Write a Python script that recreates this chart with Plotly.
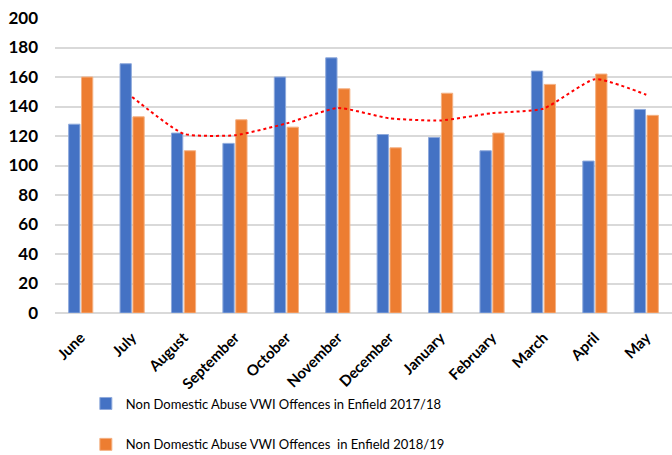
import plotly.graph_objects as go

months = ["June", "July", "August", "September", "October", "November",
          "December", "January", "February", "March", "April", "May"]
offences_2017_18 = [128, 169, 122, 115, 160, 173, 121, 119, 110, 164, 103, 138]
offences_2018_19 = [160, 133, 110, 131, 126, 152, 112, 149, 122, 155, 162, 134]
# 2-period moving average trend line
trend_2018_19 = [None, 146.5, 121.5, 120.5, 128.5, 139, 132, 130.5, 135.5, 138.5, 158.5, 148]
y_ticks = [0, 20, 40, 60, 80, 100, 120, 140, 160, 180, 200]

name_a = "Non Domestic Abuse VWI Offences in Enfield 2017/18"
name_b = "Non Domestic Abuse VWI Offences  in Enfield 2018/19"

fig = go.Figure()
fig.add_trace(go.Bar(x=months, y=offences_2017_18, name=name_a, legendgroup="a",
                     marker=dict(color="#4472C4", line=dict(color="#8FAADC", width=1))))
fig.add_trace(go.Bar(x=months, y=offences_2018_19, name=name_b, legendgroup="b",
                     marker=dict(color="#ED7D31", line=dict(color="#F4B183", width=1))))
fig.add_trace(go.Scatter(x=months, y=trend_2018_19, mode="lines", showlegend=False,
                         line=dict(color="#FF0000", width=2, dash="dot", shape="spline",
                                   smoothing=0.5),
                         connectgaps=False, hoverinfo="skip"))

fig.update_layout(
    width=672, height=455,
    margin=dict(l=55, r=0, t=18, b=142, autoexpand=False),
    paper_bgcolor="white", plot_bgcolor="white",
    barmode="group", bargap=0.5, bargroupgap=0.12,
    font=dict(family="Lato, Open Sans, sans-serif", color="#000000"),
    xaxis=dict(tickangle=-45, tickfont=dict(size=15, family="Lato", weight="bold"),
               showgrid=False, showline=False, ticks="", automargin=False,
               ticklabelstandoff=12),
    yaxis=dict(range=[0, 200], tickvals=y_ticks, showgrid=True, gridcolor="#D9D9D9",
               gridwidth=1.5, zeroline=True, zerolinecolor="#D9D9D9", zerolinewidth=1.5,
               tickfont=dict(size=17, family="Lato", weight="bold"), ticks="",
               ticklabelstandoff=16, automargin=False),
    legend=dict(orientation="v", x=0.05, y=-0.256, xanchor="left", yanchor="top",
                traceorder="grouped", tracegroupgap=21,
                font=dict(size=13, family="Lato", color="#000000"),
                bgcolor="rgba(0,0,0,0)"),
)

fig.write_html("out.html", config={"displayModeBar": False},
               post_script="document.body.style.margin='0';")
